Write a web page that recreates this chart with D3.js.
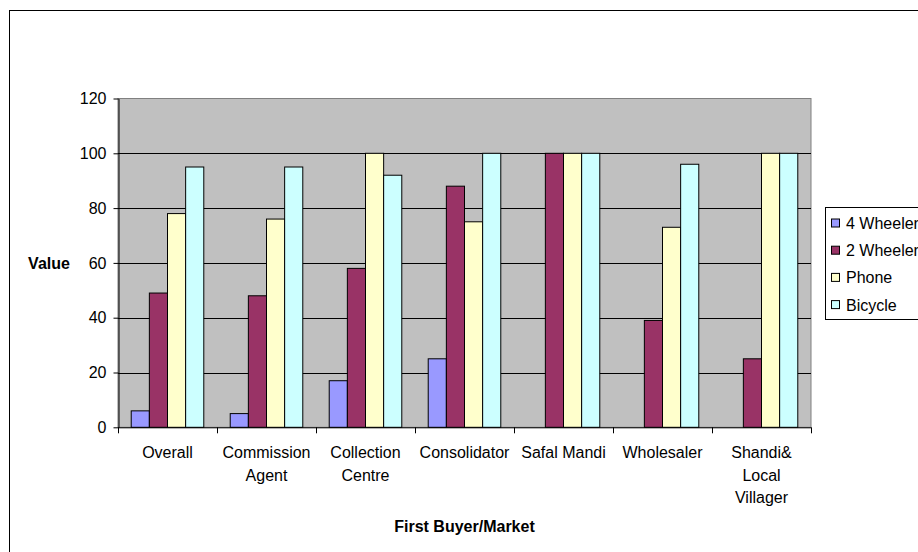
<!DOCTYPE html>
<html>
<head>
<meta charset="utf-8">
<script src="https://cdn.jsdelivr.net/npm/d3@7"></script>
<style>
  html, body { margin: 0; padding: 0; background: #fff; }
  svg { display: block; overflow: hidden; }
  text { font-family: "Liberation Sans", Arial, sans-serif; fill: #000; }
</style>
</head>
<body>
<div id="chart"></div>
<script>
// Data
const categories = ["Overall", "Commission\nAgent", "Collection\nCentre", "Consolidator", "Safal Mandi", "Wholesaler", "Shandi&\nLocal\nVillager"];
const seriesNames = ["4 Wheeler", "2 Wheeler", "Phone", "Bicycle"];
const fourWheeler = [6, 5, 17, 25, 0, 0, 0];
const twoWheeler = [49, 48, 58, 88, 100, 39, 25];
const phone = [78, 76, 100, 75, 100, 73, 100];
const bicycle = [95, 95, 92, 100, 100, 96, 100];
const yTicks = [0, 20, 40, 60, 80, 100, 120];
const seriesColors = ["#9999FF", "#993366", "#FFFFCC", "#CCFFFF"];

const W = 918, H = 552;
const plot = { left: 118, top: 98.5, right: 811, bottom: 427.3 };

const svg = d3.select("#chart").append("svg")
    .attr("width", W)
    .attr("height", H);

// Outer chart border (runs off the right and bottom edges)
svg.append("rect")
    .attr("x", 9.5).attr("y", 10.5)
    .attr("width", 940).attr("height", 600)
    .attr("fill", "#fff")
    .attr("stroke", "#000");

const allSeries = [fourWheeler, twoWheeler, phone, bicycle];
const rows = [];
categories.forEach((c, i) => {
    allSeries.forEach((s, j) => rows.push({ cat: c, series: seriesNames[j], value: s[i] }));
});

// Scales
const x0 = d3.scaleBand()
    .domain(categories)
    .range([plot.left, plot.right])
    .paddingInner(0.267)
    .paddingOuter(0.1335);

const x1 = d3.scaleBand()
    .domain(seriesNames)
    .range([0, x0.bandwidth()]);

const y = d3.scaleLinear()
    .domain([0, 120])
    .range([plot.bottom, plot.top]);

const color = d3.scaleOrdinal().domain(seriesNames).range(seriesColors);

// Plot area background
svg.append("rect")
    .attr("x", plot.left).attr("y", plot.top)
    .attr("width", plot.right - plot.left)
    .attr("height", plot.bottom - plot.top)
    .attr("fill", "#C0C0C0")
    .attr("stroke", "#808080");

// Gridlines
svg.append("g")
    .selectAll("line")
    .data(yTicks.filter(t => t > 0 && t < 120))
    .join("line")
    .attr("x1", plot.left).attr("x2", plot.right)
    .attr("y1", d => Math.round(y(d)) + 0.5)
    .attr("y2", d => Math.round(y(d)) + 0.5)
    .attr("stroke", "#000");

// Bars
svg.append("g")
    .selectAll("rect")
    .data(rows.filter(d => d.value > 0))
    .join("rect")
    .attr("x", d => x0(d.cat) + x1(d.series))
    .attr("y", d => y(d.value))
    .attr("width", x1.bandwidth())
    .attr("height", d => y(0) - y(d.value))
    .attr("fill", d => color(d.series))
    .attr("stroke", "#000")
    .attr("stroke-width", 1);

// Y axis
const yAxis = svg.append("g")
    .attr("transform", `translate(${plot.left + 0.5},0)`)
    .call(d3.axisLeft(y).tickValues(yTicks).tickSize(5).tickPadding(7).tickSizeOuter(0));
yAxis.select(".domain").attr("stroke", "#000");
yAxis.selectAll("line").attr("stroke", "#000");
yAxis.selectAll("text")
    .style("font-size", "16px")
    .attr("font-family", null);

// X axis: ticks between categories
const xAxis = svg.append("g");
xAxis.append("line")
    .attr("x1", plot.left).attr("x2", plot.right)
    .attr("y1", plot.bottom + 0.5).attr("y2", plot.bottom + 0.5)
    .attr("stroke", "#000");
const step = x0.step();
xAxis.selectAll("line.tick")
    .data(d3.range(categories.length + 1))
    .join("line")
    .attr("class", "tick")
    .attr("x1", i => Math.round(plot.left + i * step) + 0.5)
    .attr("x2", i => Math.round(plot.left + i * step) + 0.5)
    .attr("y1", plot.bottom)
    .attr("y2", plot.bottom + 6)
    .attr("stroke", "#000");

// Category labels (multi-line)
const catLabel = xAxis.selectAll("text")
    .data(categories)
    .join("text")
    .attr("text-anchor", "middle")
    .style("font-size", "16px")
    .attr("x", d => x0(d) + x0.bandwidth() / 2)
    .attr("y", 458);
catLabel.selectAll("tspan")
    .data(d => d.split("\n"))
    .join("tspan")
    .attr("x", function () { return d3.select(this.parentNode).attr("x"); })
    .attr("dy", (d, i) => i === 0 ? 0 : 22.5)
    .text(d => d);

// Axis titles
svg.append("text")
    .attr("x", (plot.left + plot.right) / 2)
    .attr("y", 532)
    .attr("text-anchor", "middle")
    .style("font-size", "16px")
    .style("font-weight", "bold")
    .text("First Buyer/Market");

svg.append("text")
    .attr("x", 49)
    .attr("y", 269)
    .attr("text-anchor", "middle")
    .style("font-size", "16px")
    .style("font-weight", "bold")
    .text("Value");

// Legend
const legend = svg.append("g");
legend.append("rect")
    .attr("x", 825.5).attr("y", 207.5)
    .attr("width", 120).attr("height", 112)
    .attr("fill", "#fff")
    .attr("stroke", "#000");

const item = legend.selectAll("g.item")
    .data(seriesNames)
    .join("g")
    .attr("class", "item")
    .attr("transform", (d, i) => `translate(0,${223.5 + i * 27.2})`);

item.append("rect")
    .attr("x", 831.5).attr("y", -4.5)
    .attr("width", 8).attr("height", 8)
    .attr("fill", d => color(d))
    .attr("stroke", "#000");

item.append("text")
    .attr("x", 846)
    .attr("y", 5.5)
    .style("font-size", "16px")
    .text(d => d);
</script>
</body>
</html>
